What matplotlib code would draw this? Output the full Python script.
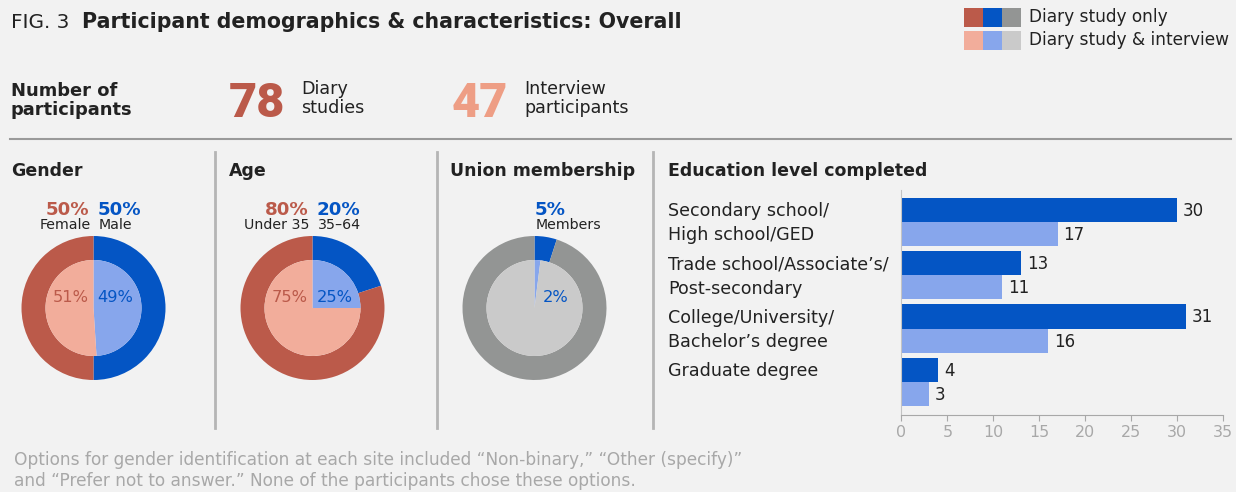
import numpy as np
import matplotlib
matplotlib.use("Agg")
import matplotlib.pyplot as plt
from matplotlib.transforms import blended_transform_factory

plt.rcParams['font.family'] = ['DejaVu Sans']

# colours
RED = "#bb5a4a"
BLUE = "#0455c4"
GREY = "#939594"
RED_L = "#f2ad9b"
BLUE_L = "#87a6ec"
GREY_L = "#cacaca"
SALMON = "#ee9e85"
BG = "#f2f2f2"
INK = "#222222"
MUTED = "#a8a8a8"

# data
n_diary = 78
n_interview = 47

gender_outer = [50, 50]      # male, female (diary study only)
gender_inner = [49, 51]      # male, female (diary & interview)
age_outer = [20, 80]         # 35-64, under 35
age_inner = [25, 75]
union_outer = [5, 95]        # members, non-members
union_inner = [2, 98]

edu_labels = ["Secondary school/\nHigh school/GED",
              "Trade school/Associate\u2019s/\nPost-secondary",
              "College/University/\nBachelor\u2019s degree",
              "Graduate degree"]
edu_diary = [30, 13, 31, 4]
edu_both = [17, 11, 16, 3]
xticks = [0, 5, 10, 15, 20, 25, 30, 35]

foot1 = "Options for gender identification at each site included \u201cNon-binary,\u201d \u201cOther (specify)\u201d"
foot2 = "and \u201cPrefer not to answer.\u201d None of the participants chose these options."

W, H = 1236, 492
fig = plt.figure(figsize=(W / 100, H / 100), dpi=100, facecolor=BG)
renderer = fig.canvas.get_renderer()

ov = fig.add_axes([0, 0, 1, 1])
ov.set_xlim(0, W)
ov.set_ylim(H, 0)
ov.axis("off")
ov.set_zorder(5)


def size_for(s, width, **kw):
    # font size that makes s about `width` pixels wide
    t = ov.text(0, 0, s, fontsize=10, **kw)
    w = t.get_window_extent(renderer).width
    t.remove()
    return 10 * width / w


def px_axes(x0, y0, x1, y1):
    return fig.add_axes([x0 / W, 1 - y1 / H, (x1 - x0) / W, (y1 - y0) / H])


fs_title = size_for("Participant demographics & characteristics: Overall", 600, fontweight="bold")
fs_fig = size_for("FIG. 3", 58)
fs_leg = size_for("Diary study & interview", 201)
fs_num = size_for("participants", 122, fontweight="bold")
fs_big = size_for("78", 57, fontweight="black", family="Roboto")
fs_sub = size_for("participants", 105)
fs_sec = size_for("Education level completed", 260, fontweight="bold")
fs_pct = size_for("50%", 44, fontweight="bold")
fs_small = size_for("Under 35", 65)
fs_inner = size_for("49%", 36)
fs_lab = size_for("Trade school/Associate\u2019s/", 219)
fs_val = size_for("30", 21)
fs_tick = size_for("30", 20)
fs_foot = size_for(foot1, 732)

# header
ov.text(11, 28, "FIG. 3", fontsize=fs_fig, color=INK, va="baseline")
ov.text(82, 28, "Participant demographics & characteristics: Overall",
        fontsize=fs_title, fontweight="bold", color=INK, va="baseline")

# legend swatches
for row, cols in enumerate([[RED, BLUE, GREY], [RED_L, BLUE_L, GREY_L]]):
    for k, c in enumerate(cols):
        ov.add_patch(plt.Rectangle((964 + 19 * k, 8 + 22.5 * row), 19, 19,
                                   facecolor=c, edgecolor="none"))
ov.text(1029, 22, "Diary study only", fontsize=fs_leg, color=INK, va="baseline")
ov.text(1029, 45, "Diary study & interview", fontsize=fs_leg, color=INK, va="baseline")

# participants row
ov.text(11, 96, "Number of", fontsize=fs_num, fontweight="bold", color=INK, va="baseline")
ov.text(11, 115, "participants", fontsize=fs_num, fontweight="bold", color=INK, va="baseline")
ov.text(229, 117, str(n_diary), fontsize=fs_big, fontweight="black", family="Roboto",
        color=RED, va="baseline")
ov.text(301, 94, "Diary", fontsize=fs_sub, color=INK, va="baseline")
ov.text(301, 113, "studies", fontsize=fs_sub, color=INK, va="baseline")
ov.text(452, 117, str(n_interview), fontsize=fs_big, fontweight="black", family="Roboto",
        color=SALMON, va="baseline")
ov.text(524, 94, "Interview", fontsize=fs_sub, color=INK, va="baseline")
ov.text(524, 113, "participants", fontsize=fs_sub, color=INK, va="baseline")

ov.plot([10, 1231], [139, 139], color="#9a9a9a", lw=1.5)
for x in [215, 437, 653]:
    ov.plot([x, x], [152, 428], color="#b5b5b5", lw=2)

# section titles
for x, t in [(11, "Gender"), (229, "Age"), (450, "Union membership"),
             (668, "Education level completed")]:
    ov.text(x, 176, t, fontsize=fs_sec, fontweight="bold", color=INK, va="baseline")


def donut(cx, cy, outer, inner, outer_cols, inner_cols):
    r = 72
    ax = px_axes(cx - r, cy - r, cx + r, cy + r)
    ax.pie(outer, colors=outer_cols, startangle=90, counterclock=False, radius=1,
           wedgeprops=dict(width=1 / 3, edgecolor="none", linewidth=0))
    ax.pie(inner, colors=inner_cols, startangle=90, counterclock=False, radius=2 / 3,
           wedgeprops=dict(edgecolor="none", linewidth=0))
    ax.set_xlim(-1, 1)
    ax.set_ylim(-1, 1)
    ax.set_aspect("equal")
    ax.axis("off")
    return ax


donut(93.5, 308, gender_outer, gender_inner, [BLUE, RED], [BLUE_L, RED_L])
donut(312.5, 308, age_outer, age_inner, [BLUE, RED], [BLUE_L, RED_L])
donut(534.5, 308, union_outer, union_inner, [BLUE, GREY], [BLUE_L, GREY_L])

# donut annotations
def pct_pair(cx, left, right, lname, rname, inner_l, inner_r):
    if left is not None:
        ov.text(cx - 4, 215, f"{left}%", fontsize=fs_pct, fontweight="bold", color=RED, ha="right", va="baseline")
        ov.text(cx - 3, 229, lname, fontsize=fs_small, color=INK, ha="right", va="baseline")
        ov.text(cx - 5, 302, f"{inner_l}%", fontsize=fs_inner, color=RED, ha="right", va="baseline")
    ov.text(cx + 4, 215, f"{right}%", fontsize=fs_pct, fontweight="bold", color=BLUE, ha="left", va="baseline")
    ov.text(cx + 5, 229, rname, fontsize=fs_small, color=INK, ha="left", va="baseline")


pct_pair(93.5, gender_outer[1], gender_outer[0], "Female", "Male", gender_inner[1], gender_inner[0])
ov.text(97, 302, f"{gender_inner[0]}%", fontsize=fs_inner, color=BLUE, ha="left", va="baseline")
pct_pair(312.5, age_outer[1], age_outer[0], "Under 35", "35\u201364", age_inner[1], age_inner[0])
ov.text(317, 302, f"{age_inner[0]}%", fontsize=fs_inner, color=BLUE, ha="left", va="baseline")
pct_pair(531, None, union_outer[0], "", "Members", None, None)
ov.text(543, 302, f"{union_inner[0]}%", fontsize=fs_inner, color=BLUE, ha="left", va="baseline")

# education bars
ax = px_axes(901.5, 190, 1222.8, 415)
ax.set_facecolor("none")
y = np.arange(len(edu_labels))
h = 0.45
ax.barh(y - h / 2, edu_diary, height=h, color=BLUE)
ax.barh(y + h / 2, edu_both, height=h, color=BLUE_L)
for yi, v in zip(y - h / 2, edu_diary):
    ax.annotate(str(v), (v, yi), xytext=(6, -6), textcoords="offset pixels",
                fontsize=fs_val, color=INK, va="baseline")
for yi, v in zip(y + h / 2, edu_both):
    ax.annotate(str(v), (v, yi), xytext=(6, -6), textcoords="offset pixels",
                fontsize=fs_val, color=INK, va="baseline")
ax.set_xlim(0, 35)
ax.set_ylim(3.62, -0.594)
ax.set_xticks(xticks)
ax.set_yticks([])
for s in ["top", "right"]:
    ax.spines[s].set_visible(False)
ax.spines["left"].set_color("#c4c4c4")
ax.spines["bottom"].set_color(MUTED)
ax.tick_params(axis="x", colors=MUTED, labelcolor=MUTED, length=4,
               labelsize=fs_tick, pad=3)

tr = blended_transform_factory(ov.transData, ax.transData)
for yi, lab in zip(y, edu_labels):
    for j, line in enumerate(lab.split("\n")):
        ax.text(668, yi - h / 2 + j * h + 0.12, line, transform=tr, fontsize=fs_lab,
                color=INK, va="baseline")

# footnote
ov.text(14, 465, foot1, fontsize=fs_foot, color=MUTED, va="baseline")
ov.text(14, 486, foot2, fontsize=fs_foot, color=MUTED, va="baseline")

fig.savefig("out.png", dpi=100, facecolor=BG)
